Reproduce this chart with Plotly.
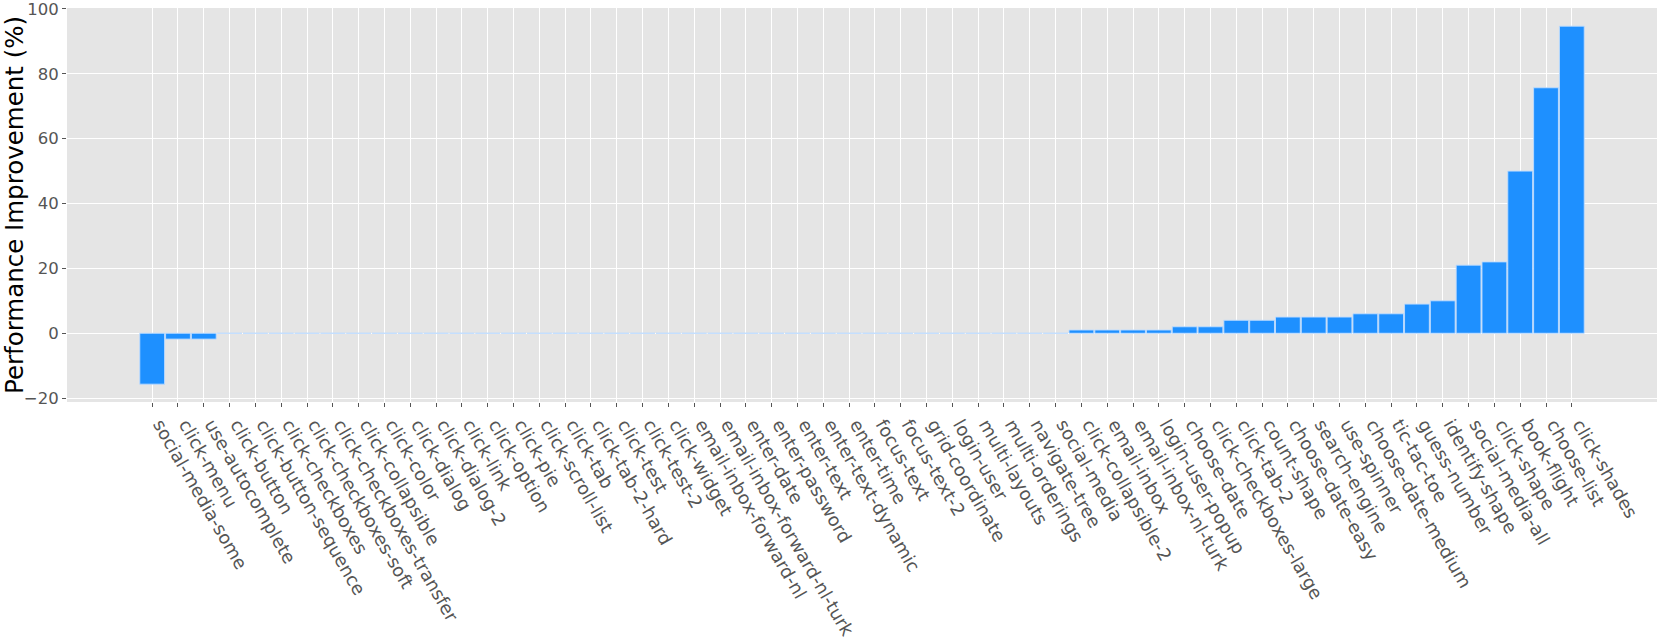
import plotly.graph_objects as go

# task names, sorted by improvement
TASKS = [
    "social-media-some", "click-menu", "use-autocomplete", "click-button",
    "click-button-sequence", "click-checkboxes", "click-checkboxes-soft",
    "click-checkboxes-transfer", "click-collapsible", "click-color", "click-dialog",
    "click-dialog-2", "click-link", "click-option", "click-pie", "click-scroll-list",
    "click-tab", "click-tab-2-hard", "click-test", "click-test-2", "click-widget",
    "email-inbox-forward-nl", "email-inbox-forward-nl-turk", "enter-date",
    "enter-password", "enter-text", "enter-text-dynamic", "enter-time", "focus-text",
    "focus-text-2", "grid-coordinate", "login-user", "multi-layouts",
    "multi-orderings", "navigate-tree", "social-media", "click-collapsible-2",
    "email-inbox", "email-inbox-nl-turk", "login-user-popup", "choose-date",
    "click-checkboxes-large", "click-tab-2", "count-shape", "choose-date-easy",
    "search-engine", "use-spinner", "choose-date-medium", "tic-tac-toe",
    "guess-number", "identify-shape", "social-media-all", "click-shape",
    "book-flight", "choose-list", "click-shades",
]

# performance improvement (%)
IMPROVEMENT = [
    -15.7, -1.8, -1.8, 0,
    0, 0, 0,
    0, 0, 0, 0,
    0, 0, 0, 0, 0,
    0, 0, 0, 0, 0,
    0, 0, 0,
    0, 0, 0, 0, 0,
    0, 0, 0, 0,
    0, 0, 0, 1,
    1, 1, 1, 2,
    2, 4, 4, 5,
    5, 5, 6, 6,
    9, 10, 21, 22,
    50, 75.7, 94.7,
]

Y_TICKS = [-20, 0, 20, 40, 60, 80, 100]

BAR = "#1E90FF"
TICK_GREY = "#555555"

fig = go.Figure(go.Bar(
    x=TASKS, y=IMPROVEMENT,
    marker={"color": BAR, "line": {"color": "rgba(190,220,255,0.9)", "width": 1}},
    hoverinfo="x+y",
))

fig.update_layout(
    width=1661, height=644,
    paper_bgcolor="white", plot_bgcolor="#E5E5E5",
    font={"family": "DejaVu Sans", "size": 16.5, "color": TICK_GREY},
    margin={"l": 67, "r": 4, "t": 8, "b": 242},
    bargap=0.04, showlegend=False,
)
fig.update_xaxes(
    type="category", range=[-3.3, 58.3], automargin=False,
    tickangle=60, ticklabelshift=8, showgrid=True, gridcolor="white", gridwidth=1,
    ticks="outside", ticklen=4, tickcolor=TICK_GREY,
    tickfont={"size": 18, "color": TICK_GREY},
    showline=False, zeroline=False,
)
fig.update_yaxes(
    range=[-21.2, 100.3], tickvals=Y_TICKS, automargin=False,
    ticklabeloverflow="allow",
    ticktext=[("\u2212" + str(-v)) if v < 0 else str(v) for v in Y_TICKS],
    showgrid=True, gridcolor="white", gridwidth=1,
    ticks="outside", ticklen=4, tickcolor=TICK_GREY,
    tickfont={"size": 16.5, "color": TICK_GREY},
    zeroline=False, showline=False,
    title={"text": "Performance Improvement (%)", "font": {"size": 24.5, "color": "black"},
           "standoff": 13},
)

# drop the browser's default body margin so the figure sits at the page corner
fig.write_html("out.html", config={"displayModeBar": False},
               post_script="document.body.style.margin='0';")
